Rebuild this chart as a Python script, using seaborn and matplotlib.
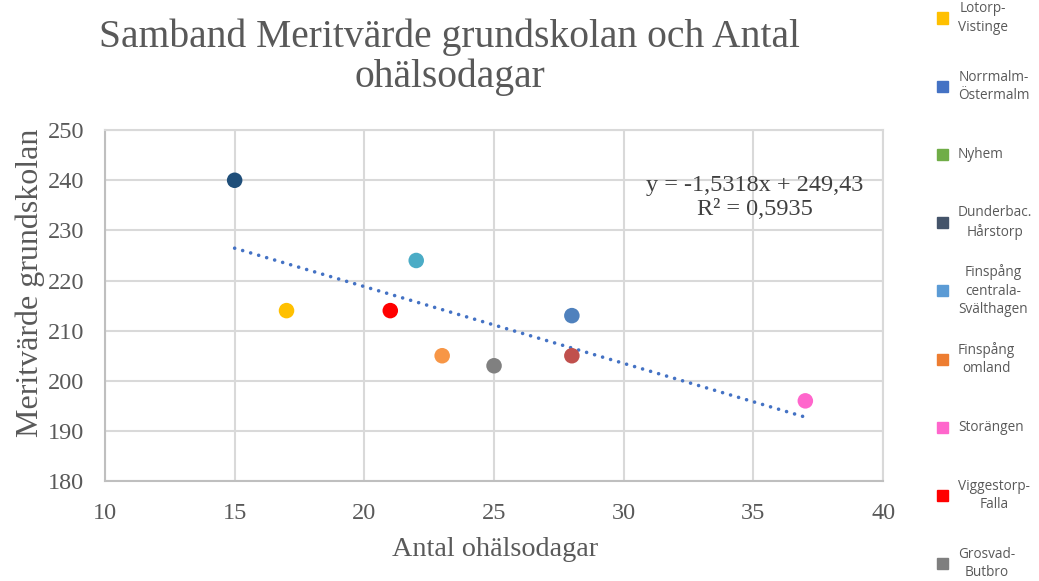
import numpy as np
import pandas as pd
import matplotlib
matplotlib.use('Agg')
import matplotlib.pyplot as plt
import seaborn as sns

# Data
omraden = ['Dunderbac.\nHårstorp', 'Lotorp-\nVistinge', 'Viggestorp-\nFalla',
           'Finspång\ncentrala-\nSvälthagen', 'Finspång\nomland', 'Grosvad-\nButbro',
           'Norrmalm-\nÖstermalm', 'okänd', 'Storängen']
ohalsodagar = [15, 17, 21, 22, 23, 25, 28, 28, 37]
meritvarde = [240, 214, 214, 224, 205, 203, 213, 205, 196]
farger = ['#1F4E79', '#FFC000', '#FF0000', '#4BACC6', '#F79646', '#808080',
          '#4F81BD', '#C0504D', '#FF66CC']

# Legend as it is visible in the picture (top is cut off)
legend_namn = ['Lotorp-\nVistinge', 'Norrmalm-\nÖstermalm', 'Nyhem', 'Dunderbac.\nHårstorp',
               'Finspång\ncentrala-\nSvälthagen', 'Finspång\nomland', 'Storängen',
               'Viggestorp-\nFalla', 'Grosvad-\nButbro']
legend_farg = ['#FFC000', '#4472C4', '#70AD47', '#44546A', '#5B9BD5', '#ED7D31',
               '#FF66CC', '#FF0000', '#7F7F7F']

df = pd.DataFrame({'Omrade': omraden, 'Ohalsodagar': ohalsodagar, 'Meritvarde': meritvarde})

sns.set_style('white')
plt.rcParams['font.family'] = ['Liberation Serif', 'DejaVu Serif']

fig = plt.figure(figsize=(10.39, 5.81), dpi=100)
ax = fig.add_axes([0.101, 0.172, 0.749, 0.604])

sns.scatterplot(data=df, x='Ohalsodagar', y='Meritvarde', hue='Omrade',
                palette=dict(zip(omraden, farger)), s=125, edgecolor='none',
                legend=False, ax=ax, zorder=3)

# Linjär trendlinje
sns.regplot(data=df, x='Ohalsodagar', y='Meritvarde', scatter=False, ci=None, ax=ax,
            line_kws={'color': '#4472C4', 'lw': 2.6, 'ls': (0, (0.01, 2.3)),
                      'dash_capstyle': 'round', 'zorder': 2})

k, m = np.polyfit(ohalsodagar, meritvarde, 1)
r2 = np.corrcoef(ohalsodagar, meritvarde)[0, 1] ** 2
eq = f'y = {k:.4f}x + {m:.2f}'.replace('.', ',')
ax.text(35.05, 236.5, eq + '\nR² = ' + f'{r2:.4f}'.replace('.', ','),
        ha='center', va='center', fontsize=17.5, color='#404040', linespacing=1.2)

ax.set_xlim(10, 40)
ax.set_ylim(180, 250)
ax.set_xticks(range(10, 41, 5))
ax.set_yticks(range(180, 251, 10))
ax.grid(True, color='#D9D9D9', lw=1.5)
ax.set_axisbelow(True)
for s in ax.spines.values():
    s.set_color('#D9D9D9')
    s.set_linewidth(1.5)
ax.spines['left'].set_color('#BFBFBF')
ax.spines['bottom'].set_color('#BFBFBF')
ax.tick_params(length=0, labelsize=17.5, labelcolor='#595959')
ax.tick_params(axis='y', pad=15)
ax.tick_params(axis='x', pad=16)
ax.set_xlabel('')
ax.set_ylabel('')

fig.text(0.476, 1 - 550 / 581, 'Antal ohälsodagar', ha='center', va='center',
         fontsize=20.3, color='#595959')
fig.text(0.029, 1 - 283 / 581, 'Meritvärde grundskolan', ha='center', va='center',
         rotation=90, fontsize=23, color='#595959')
fig.text(0.433, 1 - 57 / 581, 'Samband Meritvärde grundskolan och Antal\nohälsodagar',
         ha='center', va='center', fontsize=28.5, color='#595959', linespacing=1.1)

# Legend to the right
for i, (namn, farg) in enumerate(zip(legend_namn, legend_farg)):
    yc = 1 - (18 + i * 68.2) / 581
    fig.patches.append(plt.Rectangle((937 / 1039, yc - 5.5 / 581), 11 / 1039, 11 / 581,
                                     transform=fig.transFigure, color=farg, figure=fig))
    fig.text(958 / 1039, yc, namn, ha='left', va='center', multialignment='center',
             fontsize=9.8, color='#595959', family=['Open Sans', 'DejaVu Sans'],
             linespacing=1.3)

fig.savefig('out.png', dpi=100)
